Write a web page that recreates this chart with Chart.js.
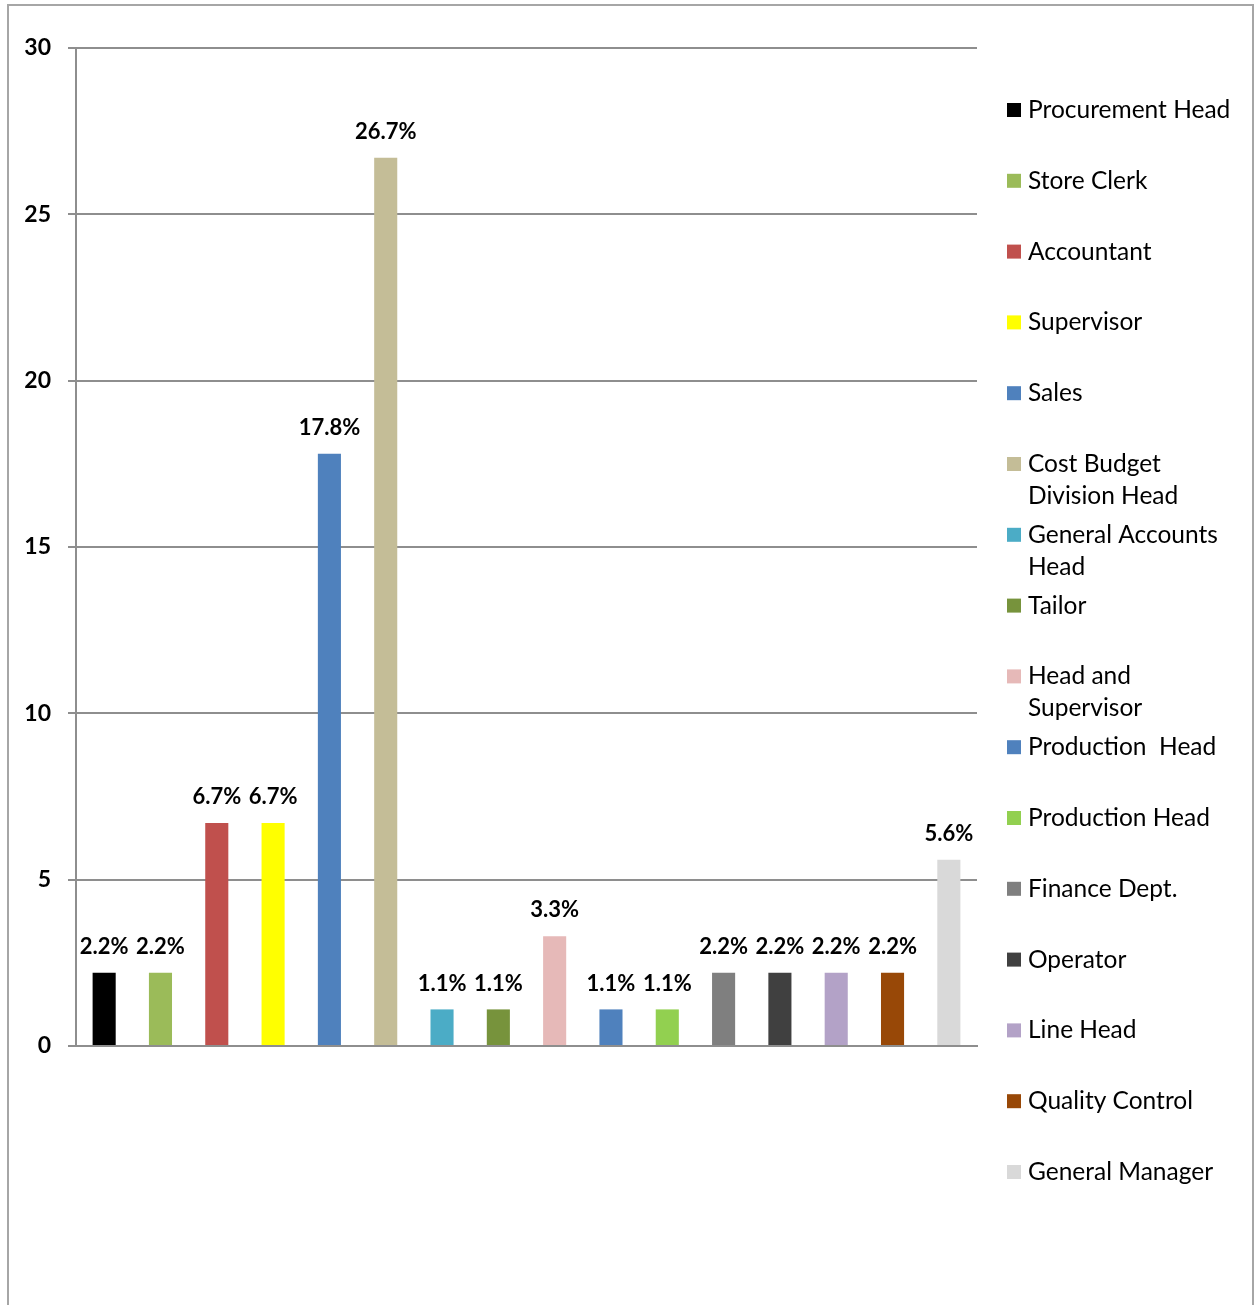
<!DOCTYPE html>
<html>
<head>
<meta charset="utf-8">
<script src="https://cdn.jsdelivr.net/npm/chart.js@4"></script>
<style>
  html, body { margin: 0; padding: 0; background: #fff; overflow: hidden; }
  #frame { position: absolute; left: 7px; top: 4px; width: 1243px; height: 1340px; border: 2px solid #a6a6a6; }
  #wrap { position: absolute; left: 0; top: 0; width: 1255px; height: 1305px; }
</style>
</head>
<body>
<div id="frame"></div>
<div id="wrap"><canvas id="chart"></canvas></div>
<script>
// Datos del gráfico
const categorias = [
  ['Procurement Head'],
  ['Store Clerk'],
  ['Accountant'],
  ['Supervisor'],
  ['Sales'],
  ['Cost Budget', 'Division Head'],
  ['General Accounts', 'Head'],
  ['Tailor'],
  ['Head and', 'Supervisor'],
  ['Production  Head'],
  ['Production Head'],
  ['Finance Dept.'],
  ['Operator'],
  ['Line Head'],
  ['Quality Control'],
  ['General Manager']
];
const valores = [2.2, 2.2, 6.7, 6.7, 17.8, 26.7, 1.1, 1.1, 3.3, 1.1, 1.1, 2.2, 2.2, 2.2, 2.2, 5.6];
const colores = [
  '#000000', '#9BBB59', '#C0504D', '#FFFF00', '#4F81BD', '#C4BD97', '#4BACC6', '#77933C',
  '#E6B9B8', '#4F81BD', '#92D050', '#7F7F7F', '#404040', '#B3A2C7', '#984807', '#D9D9D9'
];
const ticksY = [0, 5, 10, 15, 20, 25, 30];

const fuente = 'Lato, "Open Sans", sans-serif';

// Etiquetas de valor encima de cada barra
const etiquetasBarras = {
  id: 'etiquetasBarras',
  afterDatasetsDraw(chart) {
    const ctx = chart.ctx;
    const meta = chart.getDatasetMeta(0);
    ctx.save();
    ctx.font = 'bold 22px ' + fuente;
    ctx.fillStyle = '#000';
    ctx.textAlign = 'center';
    ctx.textBaseline = 'middle';
    meta.data.forEach((bar, i) => {
      ctx.fillText(valores[i].toFixed(1) + '%', bar.x, bar.y - 26);
    });
    ctx.restore();
  }
};

// Leyenda a la derecha, con líneas partidas
const leyenda = {
  id: 'leyenda',
  afterDraw(chart) {
    const ctx = chart.ctx;
    const x0 = chart.chartArea.right + 30;
    const y0 = 110;
    const paso = 70.8;
    ctx.save();
    ctx.font = '24.5px ' + fuente;
    ctx.textBaseline = 'middle';
    ctx.textAlign = 'left';
    categorias.forEach((lineas, i) => {
      const y = y0 + i * paso;
      ctx.fillStyle = colores[i];
      ctx.fillRect(x0, y - 7, 14, 14);
      ctx.fillStyle = '#000';
      lineas.forEach((t, j) => {
        ctx.fillText(t, x0 + 21, y + j * 32);
      });
    });
    ctx.restore();
  }
};

new Chart(document.getElementById('chart'), {
  type: 'bar',
  data: {
    labels: categorias.map(c => c.join(' ')),
    datasets: [{
      data: valores,
      backgroundColor: colores,
      borderWidth: 0,
      barPercentage: 0.41,
      categoryPercentage: 1
    }]
  },
  options: {
    responsive: true,
    maintainAspectRatio: false,
    animation: false,
    layout: { padding: { left: 0, top: 48, right: 278, bottom: 251 } },
    plugins: {
      legend: { display: false },
      tooltip: { enabled: false }
    },
    scales: {
      x: {
        offset: true,
        grid: { display: false },
        ticks: { display: false },
        border: { display: true, color: '#8e8e8e', width: 2 }
      },
      y: {
        min: 0,
        max: 30,
        afterBuildTicks: (scale) => { scale.ticks = ticksY.map(v => ({ value: v })); },
        afterFit: (scale) => { scale.width = 76; },
        grid: { color: '#8e8e8e', lineWidth: 2, tickLength: 8, drawTicks: true },
        border: { display: true, color: '#8e8e8e', width: 2 },
        ticks: {
          padding: 17,
          color: '#000',
          font: { family: fuente, size: 23, weight: 'bold' }
        }
      }
    }
  },
  plugins: [etiquetasBarras, leyenda]
});
</script>
</body>
</html>
